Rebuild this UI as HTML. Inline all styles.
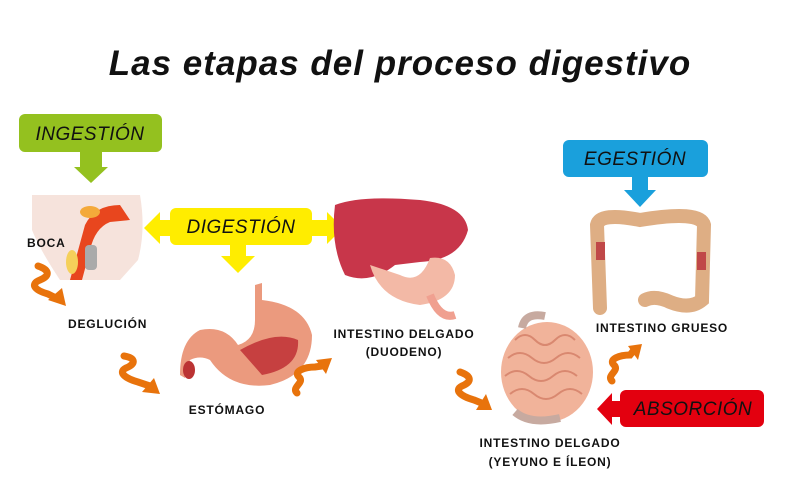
<!DOCTYPE html>
<html><head><meta charset="utf-8"><style>
html,body{margin:0;padding:0;background:#fff;}
svg{display:block}
text{font-family:"Liberation Sans",sans-serif;}
.lb{font-size:12px;font-weight:bold;fill:#111;letter-spacing:0.8px}
.bx{font-size:19px;font-style:italic;fill:#111;letter-spacing:0.5px}
</style></head><body>
<svg width="800" height="492" viewBox="0 0 800 492" xmlns="http://www.w3.org/2000/svg">
<text x="400" y="75" text-anchor="middle" font-size="35" font-weight="bold" font-style="italic" fill="#111" style="letter-spacing:1px">Las etapas del proceso digestivo</text>

<rect x="19" y="114" width="143" height="38" rx="6" fill="#94c11f"/>
<text class="bx" x="90" y="140" text-anchor="middle">INGESTIÓN</text>
<polygon points="80,152 102,152 102,167 108,167 91,183 74,167 80,167" fill="#94c11f"/>

<rect x="170" y="208" width="142" height="37" rx="6" fill="#ffed00"/>
<text class="bx" x="241" y="233" text-anchor="middle">DIGESTIÓN</text>
<polygon points="170,220 160,220 160,212 144,228 160,244 160,236 170,236" fill="#ffed00"/>
<polygon points="312,220 327,220 327,212 343,228 327,244 327,236 312,236" fill="#ffed00"/>
<polygon points="230,245 246,245 246,256 255,256 238,273 221,256 230,256" fill="#ffed00"/>

<rect x="563" y="140" width="145" height="37" rx="6" fill="#1aa0dc"/>
<text class="bx" x="635" y="165" text-anchor="middle">EGESTIÓN</text>
<polygon points="632,177 648,177 648,190 656,190 640,207 624,190 632,190" fill="#1aa0dc"/>

<rect x="620" y="390" width="144" height="37" rx="6" fill="#e3000f"/>
<text class="bx" x="693" y="415" text-anchor="middle">ABSORCIÓN</text>
<polygon points="620,401 612,401 612,393 597,409 612,425 612,417 620,417" fill="#e3000f"/>

<path d="M32,195 L140,195 Q146,230 138,260 L120,280 L60,280 Q40,250 32,230 Z" fill="#f6e3dc"/>
<path d="M70,280 L85,225 Q95,205 120,205 L130,220 L110,222 Q95,228 90,250 L82,280 Z" fill="#e8461e"/>
<ellipse cx="90" cy="212" rx="10" ry="6" fill="#f4a93a"/>
<rect x="85" y="245" width="12" height="25" rx="4" fill="#aaa"/>
<ellipse cx="72" cy="262" rx="6" ry="12" fill="#f5d05a"/>

<path d="M335,205 Q360,195 420,200 Q465,205 468,230 Q460,260 420,262 L395,265 Q370,285 345,275 Q330,245 335,205 Z" fill="#c8364a"/>
<path d="M370,265 Q380,300 420,305 Q455,300 455,275 Q450,255 430,258 Q420,285 400,275 Z" fill="#f3b9a6"/>
<path d="M430,295 Q440,320 455,315" fill="none" stroke="#f0a090" stroke-width="8"/>

<path d="M255,285 L262,283 L262,300 Q305,305 312,335 Q312,375 270,385 Q230,390 210,360 Q200,355 190,360 L185,378 L180,375 Q180,340 200,330 Q225,325 238,345 Q255,340 255,320 Z" fill="#eb9a7e"/>
<path d="M240,350 Q275,330 298,340 Q300,368 262,375 Z" fill="#c64040"/>
<ellipse cx="189" cy="370" rx="6" ry="9" fill="#b33"/>

<ellipse cx="547" cy="372" rx="46" ry="50" fill="#f1b39a"/>
<path d="M515,340 q10,-10 20,0 t20,0 t20,0 M508,358 q12,-10 24,0 t24,0 t24,0 M505,376 q12,-10 24,0 t24,0 t24,0 M510,394 q12,-10 24,0 t24,0 t24,0" fill="none" stroke="#d98870" stroke-width="2"/>
<path d="M522,328 Q525,312 545,316" fill="none" stroke="#c7aaa0" stroke-width="8"/>
<path d="M515,412 Q530,425 560,418" fill="none" stroke="#c7aaa0" stroke-width="8"/>

<path d="M600,308 L597,225 Q600,212 640,220 Q700,210 704,225 L702,300 Q690,310 670,302 Q655,295 645,300" fill="none" stroke="#deae84" stroke-width="14" stroke-linecap="round"/>
<rect x="596" y="242" width="9" height="18" fill="#c04848"/>
<rect x="697" y="252" width="9" height="18" fill="#c04848"/>

<g stroke="#e8730c" stroke-width="7" fill="none" stroke-linecap="round">
<path d="M38,266 c12,4 12,10 2,14 c-10,4 -6,10 8,14 L56,298"/>
<path d="M124,356 c12,2 12,8 2,12 c-8,4 -2,10 12,14 L150,386"/>
<path d="M297,393 c-6,-6 8,-10 2,-16 c-6,-6 6,-10 16,-10 L322,366"/>
<path d="M460,372 c12,4 12,10 2,14 c-8,4 -2,10 12,14 L484,404"/>
<path d="M612,381 c-6,-6 8,-10 2,-16 c-6,-6 6,-10 16,-10 L634,350"/>
</g>
<g fill="#e8730c">
<polygon points="48,300 66,306 62,288"/>
<polygon points="142,392 160,394 154,378"/>
<polygon points="316,360 332,358 326,374"/>
<polygon points="476,410 492,410 486,394"/>
<polygon points="628,346 642,344 638,360"/>
</g>

<text class="lb" x="27" y="247">BOCA</text>
<text class="lb" x="68" y="328">DEGLUCIÓN</text>
<text class="lb" x="227" y="414" text-anchor="middle">ESTÓMAGO</text>
<text class="lb" x="404" y="338" text-anchor="middle">INTESTINO DELGADO</text>
<text class="lb" x="404" y="356" text-anchor="middle">(DUODENO)</text>
<text class="lb" x="662" y="332" text-anchor="middle">INTESTINO GRUESO</text>
<text class="lb" x="550" y="447" text-anchor="middle">INTESTINO DELGADO</text>
<text class="lb" x="550" y="466" text-anchor="middle">(YEYUNO E ÍLEON)</text>
</svg>
</body></html>
